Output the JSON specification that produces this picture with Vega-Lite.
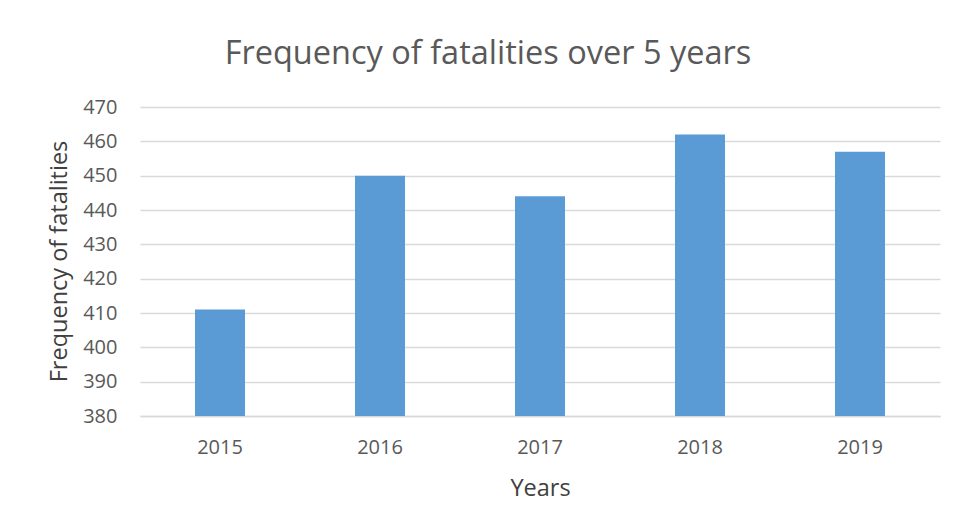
{
  "$schema": "https://vega.github.io/schema/vega-lite/v6.json",
  "width": 800,
  "height": 309,
  "autosize": {"type": "none"},
  "padding": {"left": 140, "top": 107, "right": 22, "bottom": 112},
  "background": "white",
  "title": {
    "text": "Frequency of fatalities over 5 years",
    "font": "Open Sans",
    "fontSize": 32.5,
    "fontWeight": "normal",
    "color": "#595959",
    "anchor": "middle",
    "dx": -52,
    "offset": 27
  },
  "data": {
    "values": [
      {"year": "2015", "fatalities": 411},
      {"year": "2016", "fatalities": 450},
      {"year": "2017", "fatalities": 444},
      {"year": "2018", "fatalities": 462},
      {"year": "2019", "fatalities": 457}
    ]
  },
  "mark": {"type": "bar", "color": "#5b9bd5", "size": 50, "clip": true},
  "encoding": {
    "x": {
      "field": "year",
      "type": "ordinal",
      "title": "Years",
      "scale": {"paddingInner": 0, "paddingOuter": 0},
      "axis": {
        "labelAngle": 0,
        "ticks": false,
        "domain": true,
        "domainColor": "#d9d9d9",
        "domainWidth": 1.5,
        "labelPadding": 21,
        "titleY": 72,
        "titleBaseline": "middle",
        "titlePadding": 0
      }
    },
    "y": {
      "field": "fatalities",
      "type": "quantitative",
      "title": "Frequency of fatalities",
      "scale": {"domain": [380, 470], "zero": false, "nice": false},
      "axis": {
        "values": [380, 390, 400, 410, 420, 430, 440, 450, 460, 470],
        "ticks": false,
        "domain": false,
        "grid": true,
        "gridColor": "#d9d9d9",
        "gridWidth": 1.5,
        "labelPadding": 23,
        "titleX": -81,
        "titleY": 154,
        "titleBaseline": "middle",
        "titleAlign": "center"
      }
    }
  },
  "config": {
    "view": {"stroke": null},
    "axis": {
      "labelFont": "Open Sans",
      "labelFontSize": 20,
      "labelColor": "#595959",
      "titleFont": "Open Sans",
      "titleFontSize": 23.5,
      "titleFontWeight": "normal",
      "titleColor": "#404040"
    }
  }
}
